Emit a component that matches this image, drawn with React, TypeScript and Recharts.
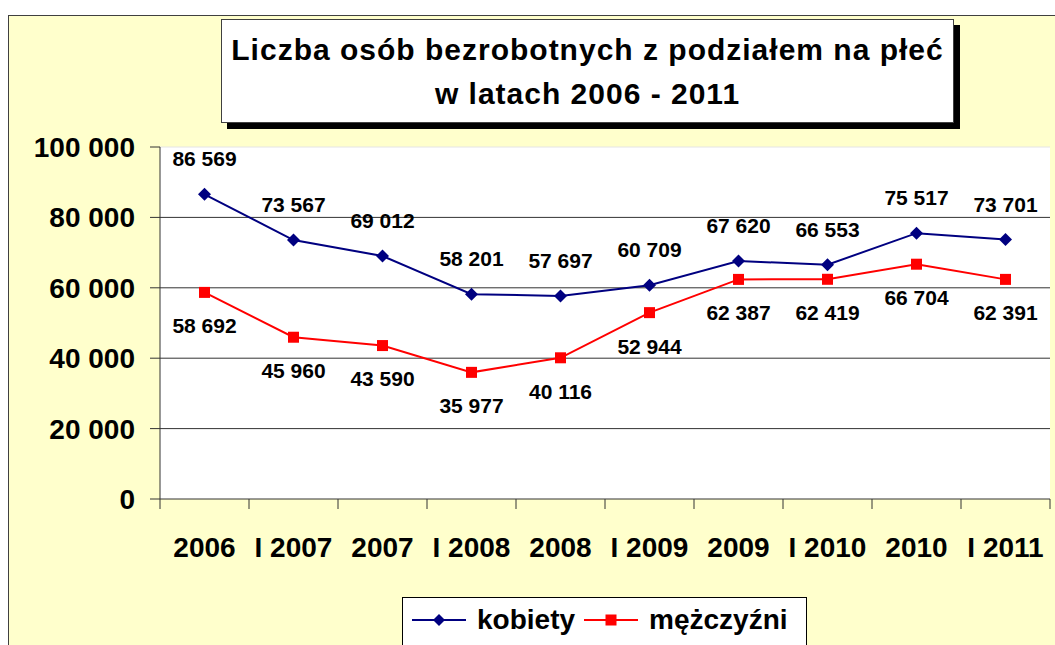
import React from "react";
import {
  CartesianGrid,
  LabelList,
  Legend,
  Line,
  LineChart,
  ReferenceLine,
  XAxis,
  YAxis,
} from "recharts";

const categories = ["2006", "I 2007", "2007", "I 2008", "2008", "I 2009", "2009", "I 2010", "2010", "I 2011"];
const kobiety = [86569, 73567, 69012, 58201, 57697, 60709, 67620, 66553, 75517, 73701];
const mezczyzni = [58692, 45960, 43590, 35977, 40116, 52944, 62387, 62419, 66704, 62391];
const yTicks = [0, 20000, 40000, 60000, 80000, 100000];
const gridValues = [20000, 40000, 60000, 80000];

const BLUE = "#000080";
const RED = "#ff0000";
const AXIS = "#333333";
const FONT = '"Liberation Sans", Arial, sans-serif';

// category i sits in the middle of the slot [i, i+1] of the numeric tick axis
const data = categories.map((label, i) => ({
  label,
  x: i + 0.5,
  kobiety: kobiety[i],
  mezczyzni: mezczyzni[i],
}));
const boundaries = [...categories.map((_, i) => i), categories.length];

const fmt = (v: number | string) => String(v).replace(/\B(?=(\d{3})+(?!\d))/g, " ");

const Diamond = (props: any) => {
  const { cx, cy } = props;
  if (cx == null || cy == null) return null;
  const r = 6.5;
  return <polygon points={`${cx},${cy - r} ${cx + r},${cy} ${cx},${cy + r} ${cx - r},${cy}`} fill={BLUE} />;
};

const Square = (props: any) => {
  const { cx, cy } = props;
  if (cx == null || cy == null) return null;
  return <rect x={cx - 5.5} y={cy - 5.5} width={11} height={11} fill={RED} />;
};

function LegendBox() {
  const item = (color: string, text: string, marker: React.ReactNode) => (
    <div style={{ display: "flex", alignItems: "center" }}>
      <svg width={54} height={14} style={{ marginRight: 11 }}>
        <line x1={0} y1={7} x2={54} y2={7} stroke={color} strokeWidth={2} />
        {marker}
      </svg>
      <span>{text}</span>
    </div>
  );
  return (
    <div
      style={{
        width: 405,
        height: 48,
        boxSizing: "border-box",
        border: "1px solid #000",
        borderBottom: "none",
        background: "#fff",
        display: "flex",
        alignItems: "center",
        padding: "0 0 4px 9px",
        gap: 9,
        fontFamily: FONT,
        fontWeight: "bold",
        fontSize: 28,
        color: "#000",
        whiteSpace: "nowrap",
      }}
    >
      {item(BLUE, "kobiety", <polygon points="27,1 33,7 27,13 21,7" fill={BLUE} />)}
      {item(RED, "mężczyźni", <rect x={21.5} y={1.5} width={11} height={11} fill={RED} />)}
    </div>
  );
}

export default function App() {
  return (
    <div
      style={{
        position: "fixed",
        left: 8,
        top: 15,
        width: 1047,
        height: 630,
        boxSizing: "border-box",
        background: "#ffffcc",
        borderTop: "1px solid #404040",
        borderLeft: "1px solid #404040",
        overflow: "hidden",
        fontFamily: FONT,
      }}
    >
      <div
        style={{
          position: "absolute",
          left: 212,
          top: 3,
          width: 733,
          height: 104,
          boxSizing: "border-box",
          border: "1px solid #404040",
          background: "#fff",
          boxShadow: "6px 6px 0 #000",
          textAlign: "center",
          fontWeight: "bold",
          fontSize: 30,
          lineHeight: "44px",
          letterSpacing: 1,
          paddingTop: 8,
          color: "#000",
          zIndex: 2,
        }}
      >
        Liczba osób bezrobotnych z podziałem na płeć
        <br />
        w latach 2006 - 2011
      </div>
      <LineChart
        width={1046}
        height={629}
        data={data}
        margin={{ top: 131, right: 5, left: 0, bottom: 76 }}
        style={{ fontFamily: FONT }}
      >
        <CartesianGrid
          horizontal
          vertical={false}
          horizontalValues={gridValues}
          stroke={AXIS}
          fill="#ffffff"
          fillOpacity={1}
        />
        <ReferenceLine xAxisId="a" y={100000} stroke="#e4e4e4" />
        <XAxis
          xAxisId="a"
          dataKey="x"
          type="number"
          domain={[0, categories.length]}
          ticks={boundaries}
          allowDataOverflow
          interval={0}
          tick={() => <g />}
          tickSize={10}
          height={10}
          stroke={AXIS}
          tickLine={{ stroke: AXIS }}
        />
        <XAxis
          xAxisId="b"
          dataKey="label"
          type="category"
          scale="band"
          axisLine={false}
          tickLine={false}
          tickSize={0}
          tickMargin={28}
          height={60}
          interval={0}
          tick={{ fill: "#000", fontSize: 28, fontWeight: "bold" }}
        />
        <YAxis
          domain={[0, 100000]}
          ticks={yTicks}
          width={151}
          tickSize={10}
          tickMargin={15}
          tickFormatter={fmt}
          stroke={AXIS}
          tick={{ fill: "#000", fontSize: 28, fontWeight: "bold" }}
          interval={0}
        />
        <Legend
          verticalAlign="middle"
          align="center"
          layout="horizontal"
          content={() => <LegendBox />}
          wrapperStyle={{ left: 393, top: 581, width: 405, height: 48 }}
        />
        <Line
          xAxisId="a"
          type="linear"
          dataKey="kobiety"
          name="kobiety"
          stroke={BLUE}
          strokeWidth={2}
          dot={<Diamond />}
          activeDot={false}
          isAnimationActive={false}
        >
          <LabelList
            dataKey="kobiety"
            position="top"
            offset={28}
            formatter={fmt}
            style={{ fill: "#000", fontSize: 21, fontWeight: "bold" }}
          />
        </Line>
        <Line
          xAxisId="a"
          type="linear"
          dataKey="mezczyzni"
          name="mężczyźni"
          stroke={RED}
          strokeWidth={2}
          dot={<Square />}
          activeDot={false}
          isAnimationActive={false}
        >
          <LabelList
            dataKey="mezczyzni"
            position="bottom"
            offset={26}
            formatter={fmt}
            style={{ fill: "#000", fontSize: 21, fontWeight: "bold" }}
          />
        </Line>
      </LineChart>
    </div>
  );
}
